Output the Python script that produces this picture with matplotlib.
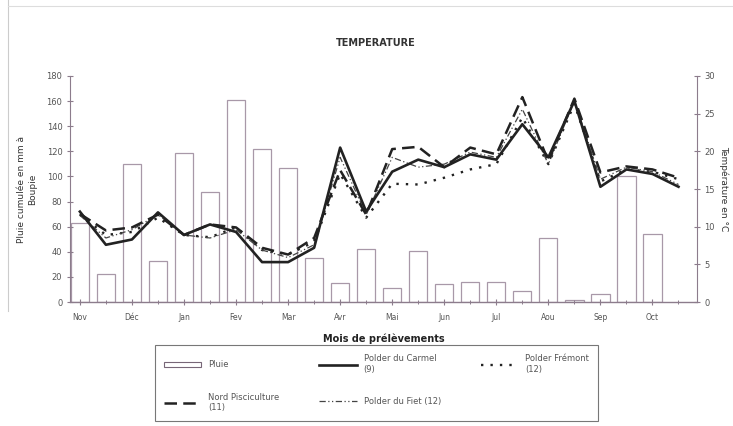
import matplotlib
matplotlib.use("Agg")
import matplotlib.pyplot as plt
from matplotlib.lines import Line2D
from matplotlib.patches import Rectangle
import numpy as np

months = ["Nov", "Déc", "Jan", "Fev", "Mar", "Avr", "Mai", "Jun", "Jul", "Aou", "Sep", "Oct"]

# Rainfall (mm), one bar per sampling (23 samplings)
pluie = [63, 22, 110, 33, 119, 88, 161, 122, 107, 35, 15, 42, 11, 41, 14, 16, 16, 9, 51, 2, 6, 100, 54]

# Temperatures (°C), 24 samplings
carmel = [12.0, 7.6, 8.3, 11.9, 8.9, 10.3, 9.3, 5.3, 5.3, 7.2, 20.5, 12.0,
          17.3, 18.9, 17.9, 19.6, 18.9, 23.6, 19.2, 26.7, 15.3, 17.6, 17.0, 15.3]
nord = [11.7, 9.5, 9.9, 11.6, 8.9, 10.3, 9.9, 7.2, 6.3, 8.5, 17.5, 11.6,
        20.3, 20.6, 17.9, 20.5, 19.6, 27.2, 18.7, 27.0, 17.2, 18.0, 17.6, 16.5]
fremont = [11.6, 8.9, 9.3, 11.2, 8.9, 8.6, 9.9, 6.9, 6.3, 8.0, 17.0, 11.2,
           15.7, 15.6, 16.5, 17.6, 18.3, 24.5, 18.3, 26.3, 16.0, 17.6, 17.3, 16.3]
fiet = [11.5, 8.5, 9.6, 11.6, 8.9, 8.5, 9.6, 6.9, 5.9, 7.6, 19.2, 11.6,
        19.2, 17.9, 18.3, 19.9, 19.2, 25.6, 18.3, 26.7, 16.3, 17.9, 17.3, 15.6]

plt.rcParams['font.family'] = ['DejaVu Sans']
ink = '#222222'
axc = '#8c7c8c'

fig = plt.figure(figsize=(7.33, 4.26), dpi=100)
ax = fig.add_axes([0.0955, 0.291, 0.855, 0.5306])
ax2 = ax.twinx()

xb = np.arange(len(pluie))
ax.bar(xb, pluie, width=0.7, facecolor='white', edgecolor='#a898a8', linewidth=0.9, zorder=1)

xt = np.arange(len(carmel))
ax2.plot(xt, carmel, color=ink, lw=1.9, ls='-', zorder=5)
ax2.plot(xt, nord, color=ink, lw=1.8, ls=(0, (5, 2.5)), zorder=4)
ax2.plot(xt, fremont, color=ink, lw=1.7, ls=(0, (1, 3)), zorder=3)
ax2.plot(xt, fiet, color='#444444', lw=0.9, ls=(0, (5, 2, 1, 2, 1, 2)), zorder=3)

ax.set_xlim(-0.38, 23.7)
ax.set_ylim(0, 180)
ax2.set_ylim(0, 30)
ax.set_yticks(np.arange(0, 181, 20))
ax2.set_yticks(np.arange(0, 31, 5))
ax.set_xticks(np.arange(0, 24, 2))
ax.set_xticklabels(months)
ax.set_xticks(np.arange(0, 24, 1), minor=True)

for a in (ax, ax2):
    a.spines['top'].set_visible(False)
    for s in ('left', 'right', 'bottom'):
        a.spines[s].set_color(axc)
        a.spines[s].set_linewidth(0.8)
ax.spines['bottom'].set_linewidth(1.0)
ax.spines['right'].set_visible(False)
ax2.spines['left'].set_visible(False)
ax2.spines['bottom'].set_visible(False)

ax.tick_params(axis='y', direction='inout', length=5, width=0.8, color=axc, labelsize=6, labelcolor='#555555', pad=3)
ax2.tick_params(axis='y', direction='inout', length=5, width=0.8, color=axc, labelsize=6, labelcolor='#555555', pad=3)
ax.tick_params(axis='x', which='major', direction='inout', length=4, width=0.8, color=axc, labelsize=5.5, labelcolor='#555555', pad=6)
ax.tick_params(axis='x', which='minor', direction='inout', length=3, width=0.7, color=axc)

ax.set_ylabel("Pluie cumulée en mm à\nBoupie", fontsize=6.5, color='#333333', labelpad=7)
ax2.set_ylabel("Température en °C", fontsize=6.5, color='#333333', rotation=270, labelpad=10)
ax.set_xlabel("Mois de prélèvements", fontsize=7, color='#222222', fontweight='bold', labelpad=8)

fig.text(0.512, 0.9, "TEMPERATURE", ha='center', va='center', fontsize=7, fontweight='bold', color='#333333')

handles = [
    Rectangle((0, 0), 1, 1, facecolor='white', edgecolor='#776677', linewidth=0.8),
    Line2D([], [], color=ink, lw=1.8, ls=(0, (5, 2.5))),
    Line2D([], [], color=ink, lw=1.9, ls='-'),
    Line2D([], [], color='#444444', lw=0.9, ls=(0, (5, 2, 1, 2, 1, 2))),
    Line2D([], [], color=ink, lw=1.7, ls=(0, (1, 3))),
]
labels = ["Pluie", "Nord Pisciculture\n(11)", "Polder du Carmel\n(9)", "Polder du Fiet (12)", "Polder Frémont\n(12)"]
leg = fig.legend(handles, labels, loc='upper left', bbox_to_anchor=(0.211, -0.1, 0.605, 0.29),
                 mode='expand', ncol=3, fontsize=6, frameon=True, fancybox=False,
                 edgecolor='#555555', handlelength=4.5, borderpad=1.1, labelspacing=2.8,
                 columnspacing=1.5, borderaxespad=0.0)
leg.get_frame().set_linewidth(0.8)
for t in leg.get_texts():
    t.set_color('#555555')

# faint page border
fig.add_artist(Line2D([0.011, 0.011], [0.27, 1.0], transform=fig.transFigure, color='#cccccc', lw=0.8))
fig.add_artist(Line2D([0.011, 1.0], [0.985, 0.985], transform=fig.transFigure, color='#dddddd', lw=0.8))

fig.savefig("out.png", dpi=100)
